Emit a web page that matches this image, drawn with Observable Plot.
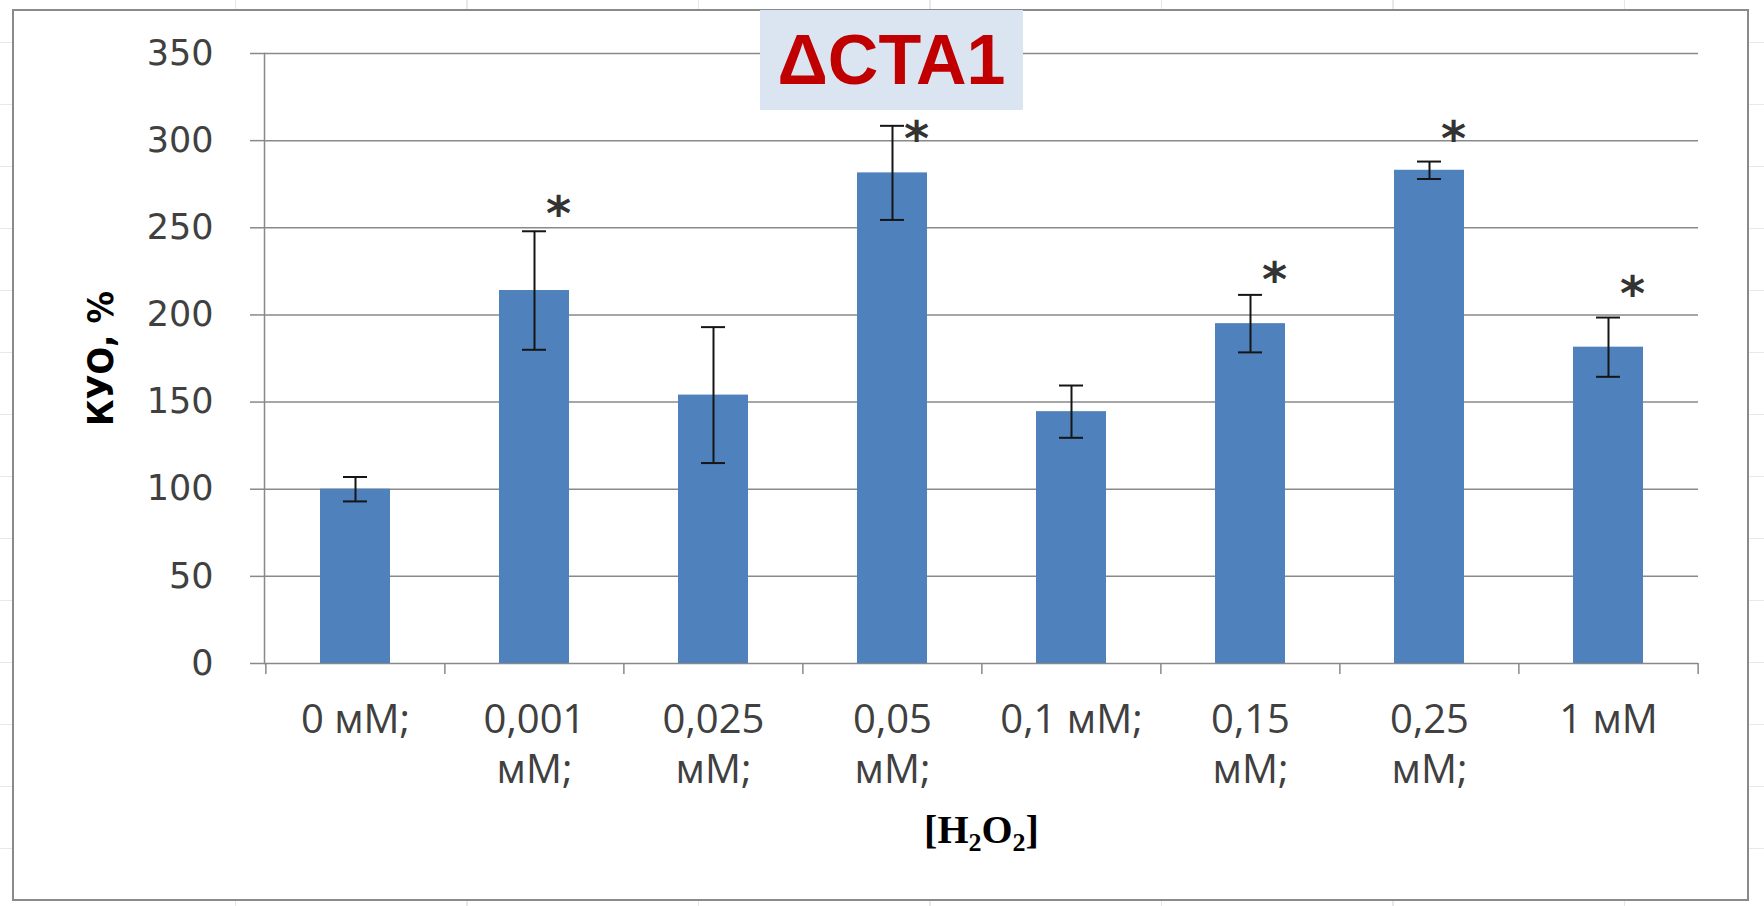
<!DOCTYPE html>
<html><head><meta charset="utf-8">
<script src="https://cdn.jsdelivr.net/npm/d3@7"></script>
<script src="https://cdn.jsdelivr.net/npm/@observablehq/plot@0.6"></script>
<style>
html,body{margin:0;padding:0}
body{width:1764px;height:906px;position:relative;overflow:hidden;background-color:#fff;
background-image:repeating-linear-gradient(90deg,transparent 0 230px,#e8e8e8 230px 231.5px),repeating-linear-gradient(180deg,transparent 0 61px,#e8e8e8 61px 62px);
background-position:5px 0,0 -19px;}
#frame{position:absolute;left:12px;top:9px;width:1737px;height:892px;box-sizing:border-box;border:2px solid #8a8a8a;background:#fff}
#chart{position:absolute;left:0;top:0}
#title{position:absolute;left:760px;top:10px;width:263px;height:100px;background:#dbe5f1;color:#c00000;font-family:"Liberation Sans",Arial,sans-serif;font-weight:bold;font-size:70px;line-height:100px;text-align:center}
</style></head>
<body>
<div id="frame"></div>
<div id="chart"></div>
<div id="title"></div>
<script>
const title = "ΔCTA1";
const yLabel = "КУО, %";
const xLabel = "[H2O2]";
const categories = ["0 мМ;", "0,001 мМ;", "0,025 мМ;", "0,05 мМ;", "0,1 мМ;", "0,15 мМ;", "0,25 мМ;", "1 мМ"];
const tickLabels = ["0 мМ;", "0,001\nмМ;", "0,025\nмМ;", "0,05\nмМ;", "0,1 мМ;", "0,15\nмМ;", "0,25\nмМ;", "1 мМ"];
const values = [100, 214, 154, 281.5, 144.5, 195, 283, 181.5];
const errors = [7, 34, 39, 27, 15, 16.5, 5, 17];
const starValues = [null, 262, null, 305, null, 224, 305, 216];
const yTicks = [0, 50, 100, 150, 200, 250, 300, 350];

const data = categories.map((c, i) => ({cat: c, value: values[i], err: errors[i], star: starValues[i]}));
const stars = data.filter(d => d.star != null);
const line = (d, k) => (tickLabels[categories.indexOf(d)].split("\n")[k] ?? "");

const width = 1764, height = 906;
const marginLeft = 264, marginRight = 66, marginTop = 53, marginBottom = 243;
const step = (width - marginLeft - marginRight) / categories.length;
const grid = "#898989";
const errColor = "#151515";
const xFont = {fontSize: 40, fontFamily: "'Open Sans', sans-serif", fill: "#404040"};

document.getElementById("title").textContent = title;

const chart = Plot.plot({
  width, height, marginLeft, marginRight, marginTop, marginBottom,
  style: {background: "transparent", overflow: "visible"},
  x: {domain: categories, paddingInner: 0.61, paddingOuter: 0.305, axis: null},
  y: {domain: [0, 350], axis: null},
  marks: [
    Plot.ruleY(yTicks, {stroke: grid, strokeWidth: 1.5}),
    Plot.frame({anchor: "left", stroke: grid, strokeWidth: 1.5}),
    Plot.ruleX(categories, {x: d => d, y1: 0, y2: 0, insetBottom: -11, dx: -step / 2, stroke: grid, strokeWidth: 1.5}),
    Plot.ruleX(categories.slice(-1), {x: d => d, y1: 0, y2: 0, insetBottom: -11, dx: step / 2, stroke: grid, strokeWidth: 1.5}),
    Plot.barY(data, {x: "cat", y: "value", fill: "#4f81bd"}),
    Plot.ruleX(data, {x: "cat", y1: d => d.value - d.err, y2: d => d.value + d.err, stroke: errColor, strokeWidth: 2}),
    Plot.tickY(data, {x: "cat", y: d => d.value + d.err, insetLeft: 23, insetRight: 23, stroke: errColor, strokeWidth: 2}),
    Plot.tickY(data, {x: "cat", y: d => d.value - d.err, insetLeft: 23, insetRight: 23, stroke: errColor, strokeWidth: 2}),
    Plot.text(stars, {x: "cat", y: "star", text: () => "*", dx: 24, dy: 8, fontSize: 48, fontWeight: "bold", fontFamily: "DejaVu Sans", fill: "#333"}),
    Plot.axisY({ticks: yTicks, tickSize: 14, tickPadding: 37, stroke: grid, strokeWidth: 1.5, fill: "#404040", fontSize: 35, fontFamily: "DejaVu Sans", label: null}),
    Plot.axisY({ticks: [], label: yLabel, labelAnchor: "center", labelArrow: false, labelOffset: 177, fontSize: 36, fontWeight: "bold", fontFamily: "'Liberation Sans Narrow', 'DejaVu Sans Condensed', sans-serif", fill: "#000"}),
    Plot.axisX({tickSize: 0, tickPadding: 41, tickFormat: d => line(d, 0), ...xFont, label: null}),
    Plot.axisX({tickSize: 0, tickPadding: 91, tickFormat: d => line(d, 1), ...xFont, label: null}),
    Plot.axisX({ticks: [], label: xLabel, labelAnchor: "center", labelArrow: false, labelOffset: 179, fontSize: 40, fontWeight: "bold", fontFamily: "'Liberation Serif', serif", fill: "#000"})
  ]
});

// subscripts in the x-axis label
const xl = d3.select(chart).select('g[aria-label="x-axis label"] text');
if (!xl.empty()) {
  const node = xl.node();
  node.textContent = "";
  const parts = [["[H", false], ["2", true], ["O", false], ["2", true], ["]", false]];
  let shifted = false;
  for (const [s, sub] of parts) {
    const ts = d3.select(node).append("tspan").text(s);
    if (sub) { ts.attr("font-size", "26px"); if (!shifted) ts.attr("dy", 8); shifted = true; }
    else { if (shifted) ts.attr("dy", -8); shifted = false; }
  }
}
document.getElementById("chart").append(chart);
</script>
</body></html>
